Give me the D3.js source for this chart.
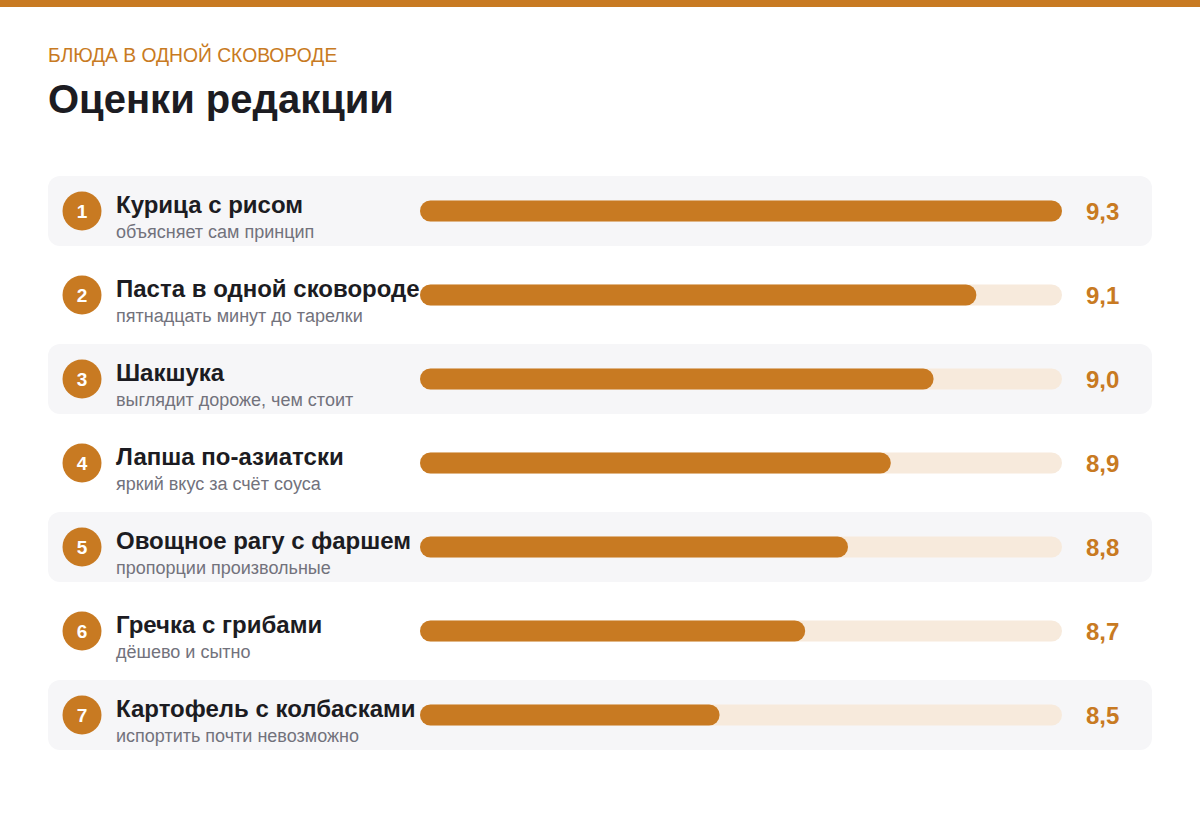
<!DOCTYPE html>
<html lang="ru">
<head>
  <meta charset="UTF-8">
  <title>Оценки редакции</title>
  <script src="https://d3js.org/d3.v7.min.js"></script>
  <style>
    body { margin: 0; background: #ffffff; }
    svg text { font-family: "Liberation Sans", Arial, sans-serif; }
  </style>
</head>
<body>
  <svg id="chart" width="1200" height="815"></svg>
  <script>
    // data
    const dishes = ["Курица с рисом", "Паста в одной сковороде", "Шакшука", "Лапша по-азиатски",
                    "Овощное рагу с фаршем", "Гречка с грибами", "Картофель с колбасками"];
    const notes = ["объясняет сам принцип", "пятнадцать минут до тарелки", "выглядит дороже, чем стоит",
                   "яркий вкус за счёт соуса", "пропорции произвольные", "дёшево и сытно",
                   "испортить почти невозможно"];
    const scores = [9.3, 9.1, 9.0, 8.9, 8.8, 8.7, 8.5];

    const svg = d3.select("svg#chart");
    const width = +svg.attr("width");

    const orange = "#c87a22";
    const track = "#f7eadc";
    const rowBg = "#f6f6f8";

    let rowTop = 176;
    let rowPitch = 84;
    let rowHeight = 70;
    let barHeight = 21;

    // top stripe
    svg.append("rect")
       .attr("x", 0).attr("y", 0)
       .attr("width", width).attr("height", 7)
       .attr("fill", orange);

    svg.append("text")
       .attr("x", 48).attr("y", 62)
       .attr("fill", orange)
       .style("font-size", "19.3px")
       .text("БЛЮДА В ОДНОЙ СКОВОРОДЕ");

    svg.append("text")
       .attr("x", 48).attr("y", 113)
       .attr("fill", "#1c1c22")
       .style("font-size", "40px")
       .style("font-weight", "bold")
       .text("Оценки редакции");

    const x = d3.scaleLinear().domain([7.8, 9.3]).range([420, 1062]);
    const y = d3.scaleBand()
                .domain(d3.range(dishes.length))
                .range([rowTop, rowTop + rowPitch * dishes.length]);

    let rows = svg.selectAll("g.row")
                  .data(dishes)
                  .join("g")
                  .attr("class", "row")
                  .attr("transform", (d, i) => `translate(0,${y(i)})`);

    // shaded background on odd rows
    rows.filter((d, i) => i % 2 === 0)
        .append("rect")
        .attr("x", 48).attr("y", 0)
        .attr("width", 1104).attr("height", rowHeight)
        .attr("rx", 12)
        .attr("fill", rowBg);

    rows.append("circle")
        .attr("cx", 82).attr("cy", rowHeight / 2)
        .attr("r", 19.5)
        .attr("fill", orange);

    rows.append("text")
        .attr("x", 82).attr("y", rowHeight / 2 + 7)
        .attr("text-anchor", "middle")
        .attr("fill", "#ffffff")
        .style("font-size", "19px")
        .style("font-weight", "bold")
        .text((d, i) => i + 1);

    rows.append("text")
        .attr("x", 116).attr("y", 37)
        .attr("fill", "#1c1c22")
        .style("font-size", "24px")
        .style("font-weight", "bold")
        .text(d => d);

    rows.append("text")
        .attr("x", 116).attr("y", 62)
        .attr("fill", "#72727c")
        .style("font-size", "18px")
        .text((d, i) => notes[i]);

    // bar track
    rows.append("rect")
        .attr("x", x.range()[0])
        .attr("y", rowHeight / 2 - barHeight / 2)
        .attr("width", x.range()[1] - x.range()[0])
        .attr("height", barHeight)
        .attr("rx", barHeight / 2)
        .attr("fill", track);

    // bar fill
    rows.append("rect")
        .attr("x", x.range()[0])
        .attr("y", rowHeight / 2 - barHeight / 2)
        .attr("width", (d, i) => x(scores[i]) - x.range()[0])
        .attr("height", barHeight)
        .attr("rx", barHeight / 2)
        .attr("fill", orange);

    rows.append("text")
        .attr("x", 1086).attr("y", rowHeight / 2 + 8.5)
        .attr("fill", orange)
        .style("font-size", "24px")
        .style("font-weight", "bold")
        .text((d, i) => d3.format(".1f")(scores[i]).replace(".", ","));
  </script>
</body>
</html>
